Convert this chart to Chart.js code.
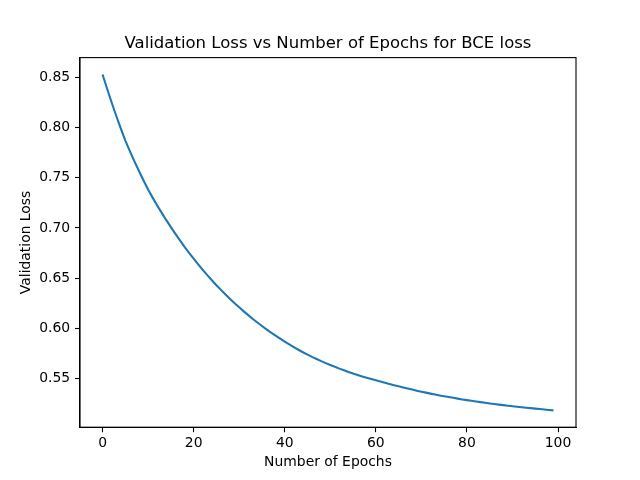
<!DOCTYPE html>
<html>
<head>
<meta charset="utf-8">
<script src="https://cdn.jsdelivr.net/npm/chart.js@4/dist/chart.umd.min.js"></script>
<style>
  html, body { margin: 0; padding: 0; background: #fff; }
  #loss-chart { display: block; }
</style>
</head>
<body>
<canvas id="loss-chart" width="640" height="480"></canvas>
<script>
const epochs = [];
for (let i = 0; i < 100; i++) epochs.push(i);

const valLoss = [
    0.8530, 0.8387, 0.8250, 0.8118, 0.7992, 0.7871, 0.7766, 0.7664, 0.7567, 0.7473,
    0.7382, 0.7302, 0.7224, 0.7150, 0.7077, 0.7008, 0.6940, 0.6875, 0.6812, 0.6752,
    0.6693, 0.6637, 0.6582, 0.6529, 0.6478, 0.6429, 0.6382, 0.6336, 0.6292, 0.6249,
    0.6208, 0.6168, 0.6130, 0.6092, 0.6057, 0.6022, 0.5988, 0.5956, 0.5925, 0.5895,
    0.5866, 0.5838, 0.5811, 0.5785, 0.5760, 0.5737, 0.5714, 0.5693, 0.5672, 0.5652,
    0.5633, 0.5615, 0.5597, 0.5580, 0.5564, 0.5548, 0.5533, 0.5519, 0.5506, 0.5493,
    0.5481, 0.5469, 0.5457, 0.5444, 0.5432, 0.5421, 0.5409, 0.5398, 0.5388, 0.5377,
    0.5367, 0.5358, 0.5348, 0.5339, 0.5330, 0.5322, 0.5314, 0.5306, 0.5298, 0.5290,
    0.5283, 0.5276, 0.5269, 0.5263, 0.5256, 0.5250, 0.5244, 0.5238, 0.5233, 0.5227,
    0.5222, 0.5217, 0.5212, 0.5207, 0.5203, 0.5198, 0.5194, 0.5189, 0.5185, 0.5181,
];

const xTicks = [0, 20, 40, 60, 80, 100];
const yTicks = [0.55, 0.60, 0.65, 0.70, 0.75, 0.80, 0.85];

const fontFamily = "'DejaVu Sans', sans-serif";
const tickFont = { family: fontFamily, size: 13.9 };

// matplotlib draws all four spines
const frame = {
    id: "frame",
    afterDraw(chart) {
        const { ctx, chartArea: a } = chart;
        ctx.save();
        ctx.strokeStyle = "#000";
        ctx.lineWidth = 1.1;
        ctx.strokeRect(a.left, a.top, a.right - a.left, a.bottom - a.top);
        ctx.restore();
    },
};

new Chart(document.getElementById("loss-chart"), {
    type: "line",
    data: {
        datasets: [
            {
                data: epochs.map((e, i) => ({ x: e, y: valLoss[i] })),
                borderColor: "#1f77b4",
                borderWidth: 2.1,
                pointRadius: 0,
                tension: 0,
                fill: false,
            },
        ],
    },
    options: {
        responsive: false,
        animation: false,
        devicePixelRatio: 1,
        // left padding + right spacer axis keep the title centred over the axes
        layout: { padding: { left: 16, right: 0, top: 0, bottom: 0 } },
        plugins: {
            legend: { display: false },
            tooltip: { enabled: false },
            title: {
                display: true,
                text: "Validation Loss vs Number of Epochs for BCE loss",
                color: "#000",
                font: { family: fontFamily, size: 16.5, weight: "normal", lineHeight: 1.2 },
                padding: { top: 34, bottom: 3.8 },
            },
        },
        scales: {
            x: {
                type: "linear",
                min: -4.95,
                max: 103.95,
                afterBuildTicks: (s) => { s.ticks = xTicks.map((v) => ({ value: v })); },
                afterFit: (s) => { s.height = 52.8; },
                ticks: { color: "#000", font: tickFont, padding: 3, maxRotation: 0 },
                grid: { drawOnChartArea: false, tickLength: 5, tickColor: "#000", tickWidth: 1.1 },
                border: { color: "#000", width: 1.1 },
                title: {
                    display: true,
                    text: "Number of Epochs",
                    color: "#000",
                    font: { family: fontFamily, size: 13.9 },
                    padding: { top: 0, bottom: 9.7 },
                },
            },
            y: {
                min: 0.5013,
                max: 0.8698,
                afterBuildTicks: (s) => { s.ticks = yTicks.map((v) => ({ value: v })); },
                afterFit: (s) => { s.width = 64; },
                ticks: {
                    color: "#000",
                    font: tickFont,
                    padding: 4.9,
                    callback: (v) => v.toFixed(2),
                },
                grid: { drawOnChartArea: false, tickLength: 5, tickColor: "#000", tickWidth: 1.1 },
                border: { color: "#000", width: 1.1 },
                title: {
                    display: true,
                    text: "Validation Loss",
                    color: "#000",
                    font: { family: fontFamily, size: 13.9 },
                    padding: { top: 1.7, bottom: 0 },
                },
            },
            yRight: {
                position: "right",
                min: 0.5013,
                max: 0.8698,
                afterFit: (s) => { s.width = 64; },
                ticks: { display: false },
                grid: { display: false },
                border: { display: false },
            },
        },
    },
    plugins: [frame],
});
</script>
</body>
</html>
